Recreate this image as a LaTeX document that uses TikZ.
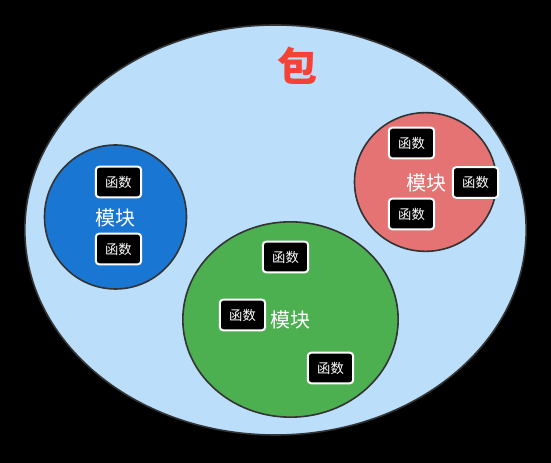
\documentclass[tikz,border=0pt]{standalone}
\usepackage{fontspec}
\newfontfamily\cjk{Noto Sans CJK SC}
\usetikzlibrary{shapes.geometric}
\definecolor{pkgblue}{HTML}{BBDEFB}
\definecolor{modblue}{HTML}{1976D2}
\definecolor{modred}{HTML}{E57373}
\definecolor{modgreen}{HTML}{4CAF50}
\definecolor{titlered}{HTML}{F44336}
\definecolor{edgegray}{HTML}{333333}

\begin{document}
\begin{tikzpicture}[x=0.75pt,y=-0.75pt,
    module/.style={ellipse,draw=edgegray,line width=1.2pt,inner sep=0pt},
    func/.style={draw=white,fill=black,line width=1.5pt,rounded corners=2.5pt,minimum width=34pt,minimum height=23pt,inner sep=0pt,text=white,font=\cjk\fontsize{10}{12}\selectfont},
    modlabel/.style={text=white,font=\cjk\fontsize{15}{18}\selectfont}]
    \fill[black] (0,0) rectangle (551,463);

    % package
    \node[module,fill=pkgblue,minimum width=376pt,minimum height=307.5pt] (pkg) at (275.5,230) {};
    \node[text=titlered,font=\cjk\bfseries\fontsize{30}{36}\selectfont] (title) at (297,66) {包};

    % modules
    \node[module,fill=modblue,minimum width=106.5pt,minimum height=108pt] (modA) at (115.5,217) {};
    \node[module,fill=modred,minimum width=106.5pt,minimum height=104pt] (modB) at (425.5,182) {};
    \node[module,fill=modgreen,minimum width=161.5pt,minimum height=146.5pt] (modC) at (290.5,319.5) {};

    \node[modlabel] (labA) at (115,218) {模块};
    \node[modlabel] (labB) at (426,183) {模块};
    \node[modlabel] (labC) at (290,320) {模块};

    % functions
    \node[func] (funA1) at (118.5,182) {函数};
    \node[func] (funA2) at (118.5,249) {函数};
    \node[func] (funB1) at (411.5,143) {函数};
    \node[func] (funB2) at (475.5,182.5) {函数};
    \node[func] (funB3) at (411.5,214) {函数};
    \node[func] (funC1) at (285.5,257) {函数};
    \node[func] (funC2) at (242.5,315) {函数};
    \node[func] (funC3) at (330.5,368) {函数};
\end{tikzpicture}
\end{document}
